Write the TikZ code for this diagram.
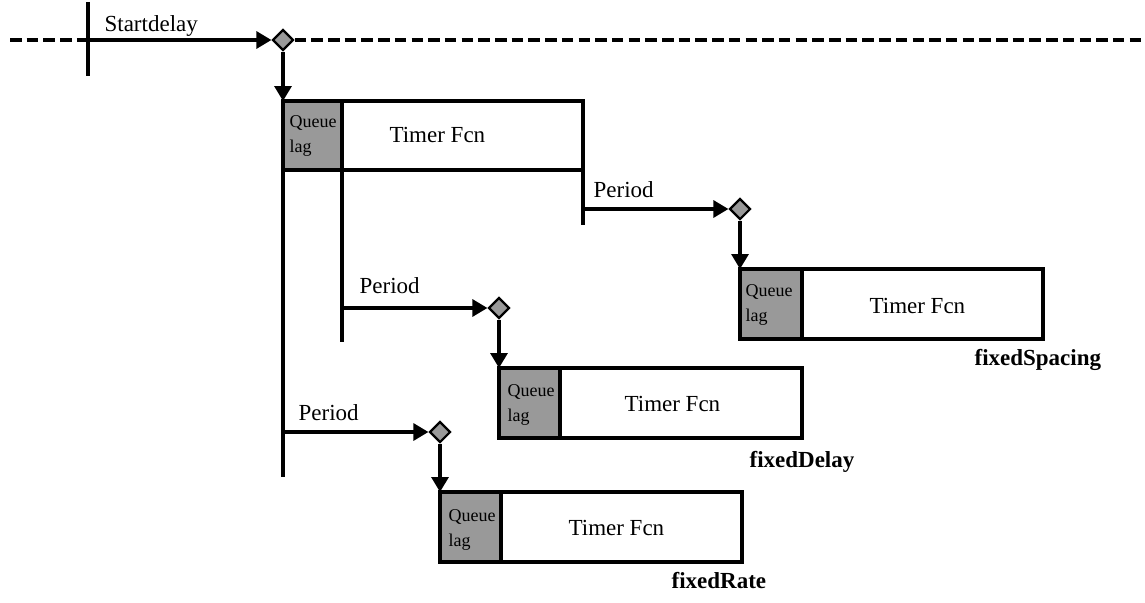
\documentclass[tikz,border=0pt]{standalone}
\usepackage{fontspec}
\setmainfont{Liberation Serif}
\usetikzlibrary{shapes.geometric,arrows.meta,calc}
\definecolor{qgray}{gray}{0.6}
\begin{document}
\begin{tikzpicture}[x=1pt,y=-1pt,line width=3.2pt,
  conn/.style={-{Triangle[length=15pt,width=17pt]}},
  dashline/.style={dash pattern=on 11.5pt off 5.2pt},
  dia/.style={diamond,draw,fill=qgray,line width=2.2pt,inner sep=0pt,minimum size=21pt},
  qbox/.style={draw,fill=qgray,anchor=north west,outer sep=0pt,inner sep=0pt,minimum width=61pt,minimum height=70pt},
  tbox/.style={draw,fill=white,anchor=north west,outer sep=0pt,inner sep=0pt,minimum width=242pt,minimum height=70pt},
  big/.style={font=\fontsize{23}{27}\selectfont,inner sep=0pt,anchor=base west},
  qtxt/.style={font=\fontsize{18}{25}\selectfont,inner sep=0pt,anchor=base west,align=left},
  modelbl/.style={font=\fontsize{23}{27}\selectfont\bfseries,inner sep=0pt,anchor=base west}
]
\useasboundingbox (0,0) rectangle (1145,602);
% timeline
\coordinate (L) at (10,40);
\coordinate (R) at (1145,40);
\coordinate (s0) at (88,40);
\coordinate (s1) at (88,2);
\coordinate (s2) at (88,76);
\node[dia] (d0) at (283,40) {};
\draw[dashline] (L) -- (s0);
\draw[dashline] (d0.east) -- (R);
\draw (s1) -- (s2);
\draw[conn] (s0) -- (d0.west);
\node[big] (lsd) at (103,32) {Startdelay};

% first timer execution
\node[qbox,minimum width=59pt,minimum height=69pt] (q1) at (283,101) {};
\node[tbox,minimum width=241pt,minimum height=69pt] (t1) at (q1.north east) {};
\draw[conn] (d0.south) -- (q1.north west);
\node[qtxt] (ql1) at ($(q1.north west)+(5,51)$) {Queue\\lag};
\node[big] (tf1) at (388,142) {Timer Fcn};

\coordinate (v1) at (283,477);
\coordinate (v2) at (342,342);
\coordinate (v3) at (583,225);
\draw (q1.south west) -- (v1);
\draw (q1.south east) -- (v2);
\draw (t1.south east) -- (v3);

% fixedSpacing
\coordinate (p1) at (583,209);
\node[dia] (d1) at (740,209) {};
\draw[conn] (p1) -- (d1.west);
\node[big] (lp1) at (592,197) {Period};
\node[qbox,minimum width=62pt] (q2) at (740,269) {};
\node[tbox,minimum width=241pt] (t2) at (q2.north east) {};
\draw[conn] (d1.south) -- (q2.north west);
\node[qtxt] (ql2) at ($(q2.north west)+(4,52)$) {Queue\\lag};
\node[big] (tf2) at (868,313) {Timer Fcn};
\node[modelbl] (m2) at (973,365) {fixedSpacing};

% fixedDelay
\coordinate (p2) at (342,308);
\node[dia] (d2) at (499,308) {};
\draw[conn] (p2) -- (d2.west);
\node[big] (lp2) at (358,293) {Period};
\node[qbox] (q3) at (499,368) {};
\node[tbox] (t3) at (q3.north east) {};
\draw[conn] (d2.south) -- (q3.north west);
\node[qtxt] (ql3) at ($(q3.north west)+(7,53)$) {Queue\\lag};
\node[big] (tf3) at (623,411) {Timer Fcn};
\node[modelbl] (m3) at (748,467) {fixedDelay};

% fixedRate
\coordinate (p3) at (283,432);
\node[dia] (d3) at (440,432) {};
\draw[conn] (p3) -- (d3.west);
\node[big] (lp3) at (297,420) {Period};
\node[qbox] (q4) at (440,492) {};
\node[tbox,minimum width=241pt] (t4) at (q4.north east) {};
\draw[conn] (d3.south) -- (q4.north west);
\node[qtxt] (ql4) at ($(q4.north west)+(7,54)$) {Queue\\lag};
\node[big] (tf4) at (567,535) {Timer Fcn};
\node[modelbl] (m4) at (670,588) {fixedRate};
\end{tikzpicture}
\end{document}
